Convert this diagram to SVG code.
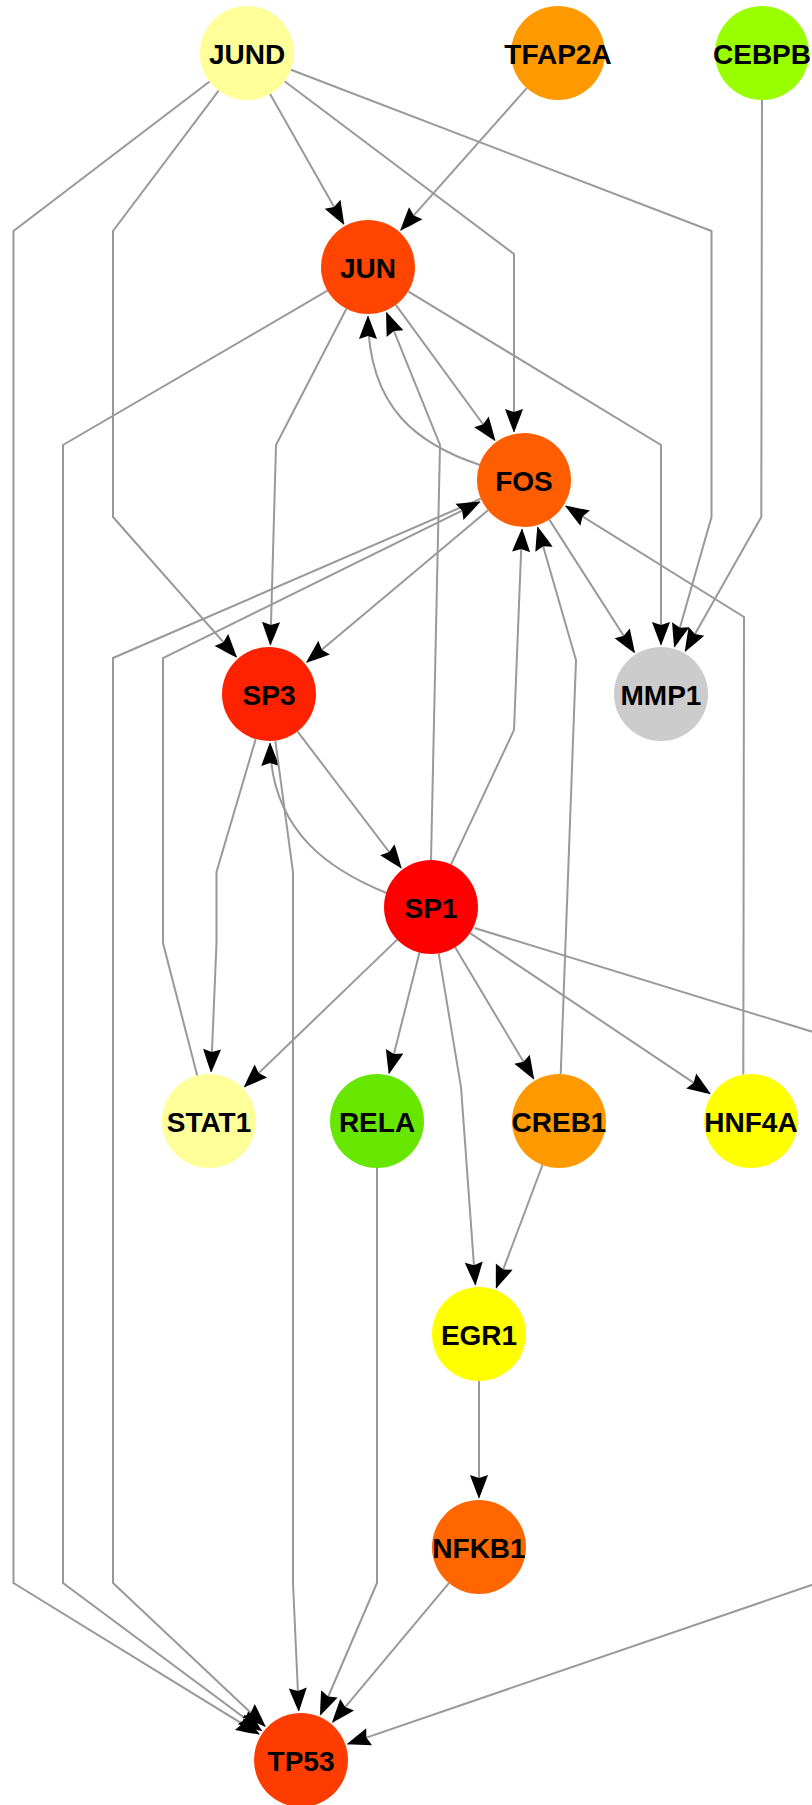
<svg xmlns="http://www.w3.org/2000/svg" width="812" height="1805" viewBox="0 0 812 1805">
  <defs>
    <style>
      .edge { fill: none; stroke: #999999; stroke-width: 2; marker-end: url(#arrow); }
      .node text { font-family: "Liberation Sans", Arial, sans-serif; font-weight: bold; font-size: 28px; fill: #000000; text-anchor: middle; }
    </style>
    <marker id="arrow" viewBox="-25 -10 26 20" refX="0" refY="0" markerWidth="26" markerHeight="20" markerUnits="userSpaceOnUse" orient="auto">
      <path d="M0.5,0 C-6,-2.8 -15,-6 -23,-9 L-20,0 L-23,9 C-15,6 -6,2.8 0.5,0 Z" fill="#000000"/>
    </marker>
  </defs>
  <rect width="812" height="1805" fill="#ffffff"/>

  <g id="connectors">
    <path class="edge" d="M209.6,81.5 L13.5,231 L13.5,1583 L259.3,1734.3"/>
    <path class="edge" d="M218.7,90.6 L113,231 L113,517 L236.6,657.2"/>
    <path class="edge" d="M270.1,93.9 L343.9,224.3"/>
    <path class="edge" d="M284.6,81.3 L514,254 L514,432"/>
    <path class="edge" d="M290.9,69.8 L711.5,231 L711.5,517 L674.4,646.9"/>
    <path class="edge" d="M526.8,88.1 L400.5,230.4"/>
    <path class="edge" d="M762,100 L761.3,517 L685.1,651.4"/>
    <path class="edge" d="M327.4,290.7 L63,445 L63,1583 L261.7,1730.8"/>
    <path class="edge" d="M346.4,308.8 L276,445 L274,517 L270.4,645"/>
    <path class="edge" d="M395.8,304.9 L495,440.5"/>
    <path class="edge" d="M408.2,291.4 L661,445 L661,645"/>
    <path class="edge" d="M480,465 C420,445 368,410 368,316"/>
    <path class="edge" d="M431,860 L440,445 L386.4,312.4"/>
    <path class="edge" d="M488,510.2 L306.5,662.5"/>
    <path class="edge" d="M549.3,519.6 L634.6,652.7"/>
    <path class="edge" d="M480.9,498.7 L113,658 L113,1583 L265.3,1726.4"/>
    <path class="edge" d="M197.2,1075.5 L163,943 L163,658 L480.1,501.7"/>
    <path class="edge" d="M560.7,1074 L576,660 L537.6,527.1"/>
    <path class="edge" d="M451,864.4 L514,730 L522,529"/>
    <path class="edge" d="M743.3,1074.6 L744,617 L565.6,505.9"/>
    <path class="edge" d="M297.5,731.4 L401.3,868"/>
    <path class="edge" d="M386.5,893 C335,872 271,835 270,743"/>
    <path class="edge" d="M255.7,739.1 L216.5,872 L216.5,943 L211.1,1072"/>
    <path class="edge" d="M275.3,740.6 L293,872 L293,1583 L298.8,1711"/>
    <path class="edge" d="M397.2,939.6 L244.3,1087"/>
    <path class="edge" d="M419.5,952.6 L389,1073.5"/>
    <path class="edge" d="M438.7,953.4 L461,1087 L475.4,1285.1"/>
    <path class="edge" d="M455.1,947.3 L533.8,1079"/>
    <path class="edge" d="M470.1,933.1 L710.3,1093.8"/>
    <path class="edge" d="M474.5,928 L830,1037.2 L830,1578.7 L347.4,1744.1"/>
    <path class="edge" d="M542.5,1165 L496.2,1288.1"/>
    <path class="edge" d="M479,1381 L479,1498"/>
    <path class="edge" d="M448.9,1583.1 L332.4,1722.4"/>
    <path class="edge" d="M377,1168 L377,1583 L320.3,1715"/>
  </g>

  <g id="JUND" class="node"><circle cx="247" cy="53" r="47" fill="#FFFF99"/><text x="247" y="63.5">JUND</text></g>
  <g id="TFAP2A" class="node"><circle cx="558" cy="53" r="47" fill="#FF9900"/><text x="558" y="63.5">TFAP2A</text></g>
  <g id="CEBPB" class="node"><circle cx="762" cy="53" r="47" fill="#99FF00"/><text x="762" y="63.5">CEBPB</text></g>
  <g id="JUN" class="node"><circle cx="368" cy="267" r="47" fill="#FF4500"/><text x="368" y="277.5">JUN</text></g>
  <g id="FOS" class="node"><circle cx="524" cy="480" r="47" fill="#FF5E00"/><text x="524" y="490.5">FOS</text></g>
  <g id="SP3" class="node"><circle cx="269" cy="694" r="47" fill="#FF2200"/><text x="269" y="704.5">SP3</text></g>
  <g id="MMP1" class="node"><circle cx="661" cy="694" r="47" fill="#CCCCCC"/><text x="661" y="704.5">MMP1</text></g>
  <g id="SP1" class="node"><circle cx="431" cy="907" r="47" fill="#FF0000"/><text x="431" y="917.5">SP1</text></g>
  <g id="STAT1" class="node"><circle cx="209" cy="1121" r="47" fill="#FFFF99"/><text x="209" y="1131.5">STAT1</text></g>
  <g id="RELA" class="node"><circle cx="377" cy="1121" r="47" fill="#66E600"/><text x="377" y="1131.5">RELA</text></g>
  <g id="CREB1" class="node"><circle cx="559" cy="1121" r="47" fill="#FF9900"/><text x="559" y="1131.5">CREB1</text></g>
  <g id="HNF4A" class="node"><circle cx="751" cy="1121" r="47" fill="#FFFF00"/><text x="751" y="1131.5">HNF4A</text></g>
  <g id="EGR1" class="node"><circle cx="479" cy="1334" r="47" fill="#FFFF00"/><text x="479" y="1344.5">EGR1</text></g>
  <g id="NFKB1" class="node"><circle cx="479" cy="1547" r="47" fill="#FF6600"/><text x="479" y="1557.5">NFKB1</text></g>
  <g id="TP53" class="node"><circle cx="301" cy="1760" r="47" fill="#FF3C00"/><text x="301" y="1770.5">TP53</text></g>
</svg>
